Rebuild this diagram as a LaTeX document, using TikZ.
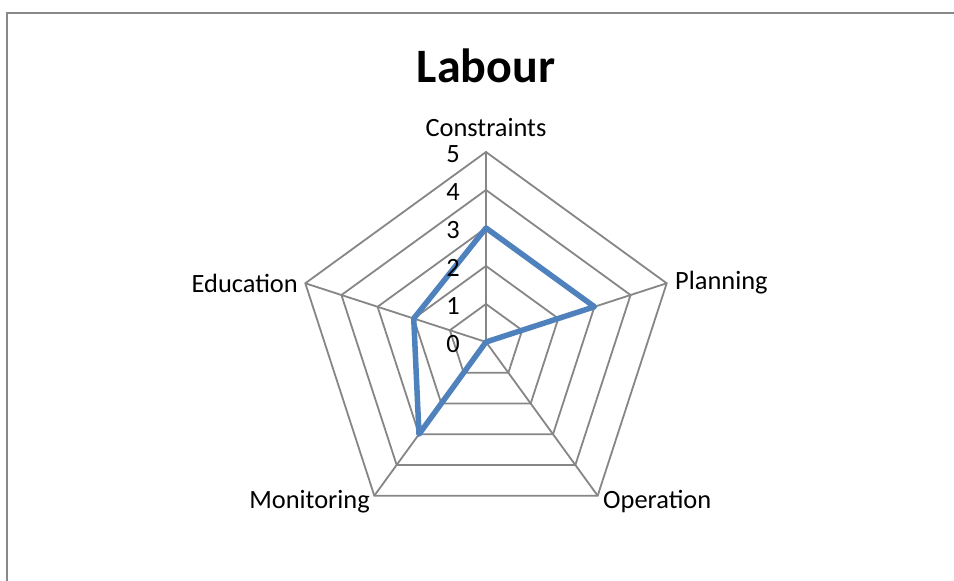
\documentclass[tikz,border=0pt]{standalone}
\usepackage{fontspec}
\setmainfont{Carlito}
\definecolor{gridgray}{HTML}{868686}
\definecolor{borderc}{HTML}{898989}
\definecolor{series}{HTML}{4F81BD}
\begin{document}
\begin{tikzpicture}[x=1pt,y=1pt,
  gridline/.style={draw=gridgray,line width=1.8pt},
  dataline/.style={draw=series,line width=5.5pt,line join=round},
  borderline/.style={draw=borderc,line width=2.6pt},
  axlabel/.style={font=\fontsize{26.4}{30}\selectfont,inner sep=0pt},
  ticklabel/.style={font=\fontsize{26.4}{30}\selectfont,inner sep=0pt},
  titlelabel/.style={font=\fontsize{48}{56}\selectfont\bfseries,inner sep=0pt}]
\useasboundingbox (0,0) rectangle (954,581);
\fill[white] (0,0) rectangle (954,581);
\coordinate (bl) at (7,0);
\coordinate (tl) at (7,568);
\coordinate (tr) at (954,568);
\draw[borderline] (bl) -- (tl) -- (tr);
\node[titlelabel] (title) at (486,515) {Labour};
\begin{scope}[shift={(486,239)}]
  \coordinate (O) at (0,0);
  \foreach \k in {1,...,5} {
    \draw[gridline] (90:38*\k) -- (18:38*\k) -- (-54:38*\k) -- (-126:38*\k) -- (162:38*\k) -- cycle;
  }
  \coordinate (vC) at (90:190);
  \coordinate (vP) at (18:190);
  \coordinate (vO) at (-54:190);
  \coordinate (vM) at (-126:190);
  \coordinate (vE) at (162:190);
  \foreach \v in {vC,vP,vO,vM,vE} \draw[gridline] (O) -- (\v);
  \coordinate (dC) at (90:114);
  \coordinate (dP) at (18:114);
  \coordinate (dO) at (0,0);
  \coordinate (dM) at (-126:114);
  \coordinate (dE) at (162:76);
  \draw[dataline] (dC) -- (dP) -- (dO) -- (dM) -- (dE) -- cycle;
  \foreach \k in {0,...,5} \node[ticklabel] (t\k) at (-33,38*\k-2) {\k};
\end{scope}
\node[axlabel] (lC) at (486,453) {Constraints};
\node[axlabel,anchor=west] (lP) at (675,298) {Planning};
\node[axlabel,anchor=east] (lE) at (298,298) {Education};
\node[axlabel,anchor=west] (lO) at (603,79) {Operation};
\node[axlabel,anchor=east] (lM) at (370,79) {Monitoring};
\end{tikzpicture}
\end{document}
